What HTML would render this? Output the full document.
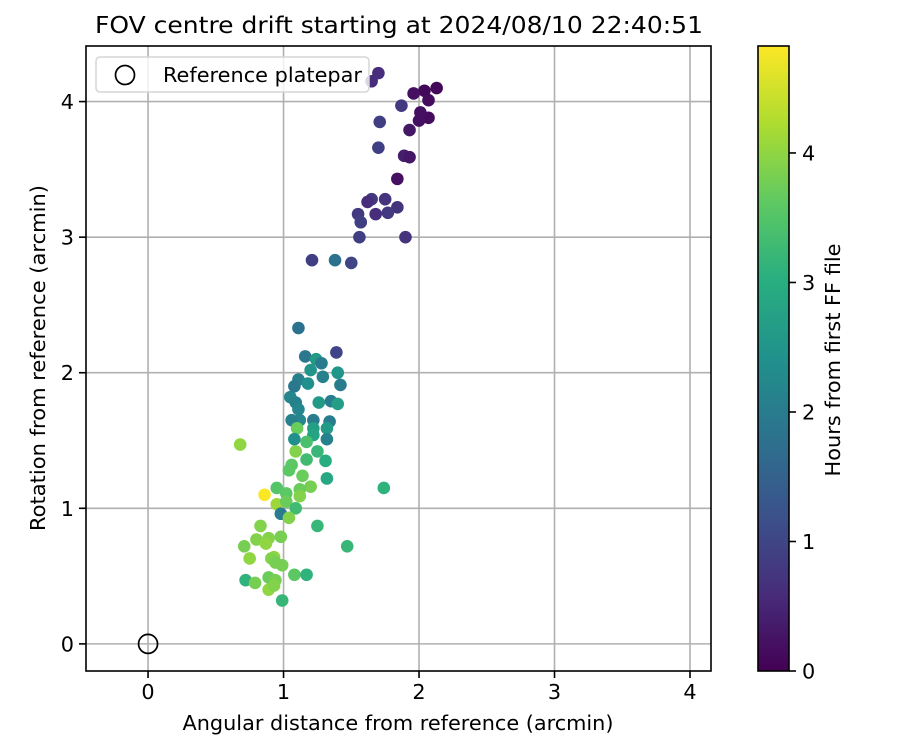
<!DOCTYPE html>
<html><head><meta charset="utf-8"><style>
body{margin:0;background:#fff}
svg{display:block;font-family:"DejaVu Sans","Liberation Sans",sans-serif}
</style></head><body>
<svg id="chart" width="900" height="750" viewBox="0 0 900 750" xmlns="http://www.w3.org/2000/svg">
<defs>
<linearGradient id="vir" x1="0" y1="1" x2="0" y2="0">
<stop offset="0" stop-color="#440154"/><stop offset="0.125" stop-color="#472d7b"/><stop offset="0.25" stop-color="#3b528b"/><stop offset="0.375" stop-color="#2c728e"/><stop offset="0.5" stop-color="#21918c"/><stop offset="0.625" stop-color="#28ae80"/><stop offset="0.75" stop-color="#5ec962"/><stop offset="0.875" stop-color="#addc30"/><stop offset="1" stop-color="#fde725"/>
</linearGradient>
</defs>
<rect width="900" height="750" fill="#fff"/>
<text x="399" y="33" font-size="23" text-anchor="middle" textLength="608" lengthAdjust="spacingAndGlyphs">FOV centre drift starting at 2024/08/10 22:40:51</text>
<g id="grid"></g>
<g id="pts"></g>
<g id="axes"></g>
<g>
<rect x="96" y="57" width="273" height="35" rx="4" fill="#fff" fill-opacity="0.8" stroke="#d6d6d6" stroke-width="1.5"/>
<circle cx="125" cy="75" r="9.5" fill="none" stroke="#000" stroke-width="1.7"/>
<text x="163" y="82" font-size="20.8" textLength="199" lengthAdjust="spacingAndGlyphs">Reference platepar</text>
</g>
<text x="398" y="730" font-size="20.8" text-anchor="middle" textLength="431" lengthAdjust="spacingAndGlyphs">Angular distance from reference (arcmin)</text>
<text transform="translate(45,358) rotate(-90)" font-size="20.8" text-anchor="middle" textLength="346" lengthAdjust="spacingAndGlyphs">Rotation from reference (arcmin)</text>
<rect x="758" y="46" width="31" height="625" fill="url(#vir)" stroke="#000" stroke-width="1.6"/>
<g id="cbar"></g>
<text transform="translate(840,360) rotate(-90)" font-size="20.8" text-anchor="middle" textLength="233" lengthAdjust="spacingAndGlyphs">Hours from first FF file</text>
</svg>
<script>
const xs=[2.13,2.04,2.07,2.07,2.0,2.01,1.96,1.70,1.65,1.87,1.93,1.71,1.70,1.89,1.93,1.84,1.75,1.65,1.62,1.84,1.77,1.68,1.55,1.57,1.56,1.90,1.21,1.38,1.50,
1.11,1.16,1.39,1.24,1.28,1.20,1.40,1.42,1.11,1.18,1.08,1.29,1.05,1.09,1.26,1.35,1.40,1.11,1.12,1.06,1.22,1.34,1.32,1.22,1.10,1.22,1.08,1.32,1.17,1.09,1.25,1.17,1.31,1.06,1.04,1.14,1.32,1.20,1.12,0.95,1.02,1.12,0.86,0.95,1.02,1.09,0.98,1.04,1.25,0.68,1.74,0.83,0.71,0.80,0.89,0.87,0.98,0.93,0.75,0.91,0.99,0.94,1.47,0.72,0.79,0.89,0.94,1.08,1.17,0.89,0.93,0.99];
const ys=[4.10,4.08,4.01,3.88,3.86,3.92,4.06,4.21,4.15,3.97,3.79,3.85,3.66,3.60,3.59,3.43,3.28,3.28,3.26,3.22,3.18,3.17,3.17,3.11,3.00,3.00,2.83,2.83,2.81,
2.33,2.12,2.15,2.10,2.07,2.02,2.00,1.91,1.95,1.92,1.90,1.97,1.82,1.78,1.78,1.79,1.77,1.73,1.65,1.65,1.65,1.64,1.59,1.59,1.59,1.54,1.51,1.51,1.49,1.42,1.42,1.36,1.35,1.32,1.28,1.24,1.22,1.16,1.14,1.15,1.11,1.09,1.10,1.03,1.05,1.00,0.96,0.93,0.87,1.47,1.15,0.87,0.72,0.77,0.78,0.74,0.79,0.64,0.63,0.63,0.58,0.60,0.72,0.47,0.45,0.49,0.47,0.51,0.51,0.40,0.43,0.32];
const hours=[0.1,0.1,0.15,0.15,0.2,0.2,0.2,0.6,0.6,0.8,0.3,0.9,0.9,0.4,0.3,0.2,0.7,0.8,0.6,0.7,0.8,0.6,0.8,0.9,0.9,0.7,0.9,1.8,1.0,
1.8,1.9,1.0,2.6,2.0,2.5,2.5,2.0,2.1,2.4,1.9,2.1,2.2,2.1,2.6,2.0,2.7,2.2,2.2,2.1,2.0,2.0,2.6,2.7,3.7,2.8,2.4,2.1,3.4,3.9,3.2,3.3,3.0,3.6,3.6,3.7,2.9,3.8,3.7,3.5,3.6,3.9,4.8,4.1,3.7,3.3,2.0,3.9,3.2,4.0,3.1,3.9,3.8,3.9,3.9,4.0,3.8,4.0,4.0,3.9,3.8,3.8,3.2,3.1,3.8,3.7,3.8,3.6,3.1,4.0,3.9,3.2];
const xTicks=[0,1,2,3,4];
const yTicks=[0,1,2,3,4];
const cTicks=[0,1,2,3,4];
const refPoint=[0,0];
const X0=86,X1=711,Y0=46,Y1=671,xmin=-0.458,xmax=4.155,ymin=-0.2,ymax=4.41,cmax=4.826;
const NS="http://www.w3.org/2000/svg";
const sx=v=>X0+(v-xmin)/(xmax-xmin)*(X1-X0);
const sy=v=>Y1-(v-ymin)/(ymax-ymin)*(Y1-Y0);
const sc=v=>671-v/cmax*625;
const vir=["#440154","#472d7b","#3b528b","#2c728e","#21918c","#28ae80","#5ec962","#addc30","#fde725"];
function hx(h){return [1,3,5].map(i=>parseInt(h.substr(i,2),16));}
function cmap(t){t=Math.max(0,Math.min(1,t))*8;const i=Math.min(7,Math.floor(t)),f=t-i;const a=hx(vir[i]),b=hx(vir[i+1]);return "rgb("+a.map((v,k)=>Math.round(v+(b[k]-v)*f)).join(",")+")";}
function mk(tag,at,parent){const e=document.createElementNS(NS,tag);for(const k in at)e.setAttribute(k,at[k]);parent.appendChild(e);return e;}
const grid=document.getElementById('grid'),axes=document.getElementById('axes'),pts=document.getElementById('pts'),cbar=document.getElementById('cbar');
xTicks.forEach(t=>{const x=sx(t);
 const g=mk('line',{x1:x,x2:x,y1:Y0,y2:Y1,stroke:'#b0b0b0','stroke-width':1.6},grid);
 
 
 mk('line',{x1:x,x2:x,y1:Y1,y2:Y1+7,stroke:'#000','stroke-width':1.6},axes);
 const l=mk('text',{x:x,y:Y1+28,'font-size':20.8,'text-anchor':'middle'},axes);l.textContent=t;
 
 });
yTicks.forEach(t=>{const y=sy(t);
 const g=mk('line',{x1:X0,x2:X1,y1:y,y2:y,stroke:'#b0b0b0','stroke-width':1.6},grid);
 
 
 mk('line',{x1:X0-7,x2:X0,y1:y,y2:y,stroke:'#000','stroke-width':1.6},axes);
 const l=mk('text',{x:X0-12,y:y+7.5,'font-size':20.8,'text-anchor':'end'},axes);l.textContent=t;
 
 });
xs.forEach((v,i)=>{const c=mk('circle',{cx:sx(v),cy:sy(ys[i]),r:6.3,fill:cmap(hours[i]/cmax)},pts);
 
 });
const rp=mk('circle',{cx:sx(refPoint[0]),cy:sy(refPoint[1]),r:9.5,fill:'none',stroke:'#000','stroke-width':1.7},pts);


const fr=mk('rect',{x:X0,y:Y0,width:X1-X0,height:Y1-Y0,fill:'none',stroke:'#000','stroke-width':1.6},axes);


cTicks.forEach(t=>{const y=sc(t);
 mk('line',{x1:789,x2:796,y1:y,y2:y,stroke:'#000','stroke-width':1.6},cbar);
 const l=mk('text',{x:802,y:y+7.5,'font-size':20.8},cbar);l.textContent=t;
 
 });
</script>
</body></html>
